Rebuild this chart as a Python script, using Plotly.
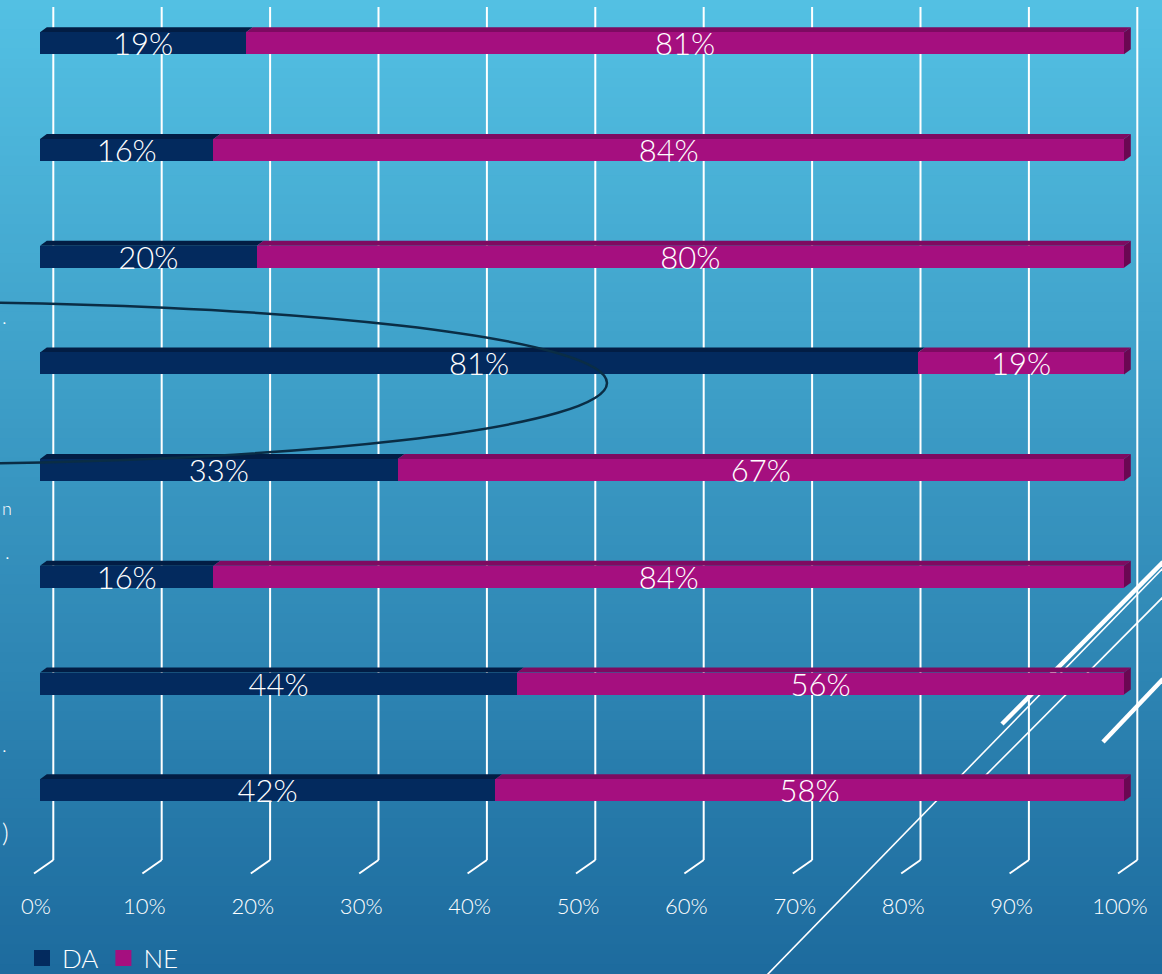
import plotly.graph_objects as go

# ---------------- data ----------------
categories = ["1", "2", "3", "4", "5", "6", "7", "8"]   # row labels (hidden in the reference)
da_values = [19, 16, 20, 81, 33, 16, 44, 42]
ne_values = [81, 84, 80, 19, 67, 84, 56, 58]
series_names = ["DA", "NE"]
x_tick_values = [0, 10, 20, 30, 40, 50, 60, 70, 80, 90, 100]
x_tick_labels = ["0%", "10%", "20%", "30%", "40%", "50%", "60%", "70%", "80%", "90%", "100%"]

# ---------------- geometry / style ----------------
W, H = 1162, 974
ML, MR, MT, MB = 20, 10, 0, 94
PW, PH = W - ML - MR, H - MT - MB
X0_PX, X100_PX = 40, 1124
PPX = (X100_PX - X0_PX) / 100.0          # pixels per x unit
ROW0_PX, ROW_STEP = 43.3, 106.7          # centre of first row, row spacing (px)
BAR_W = 22 / ROW_STEP                    # bar thickness in row units
DX = 6.8 / PPX                           # 3D depth offset (x, data units)
DY = 5.0 / ROW_STEP                      # 3D depth offset (y, data units)
GRID_SHIFT = 13.3 / PPX                  # back-wall gridline shift

x_range = [-(X0_PX - ML) / PPX, -(X0_PX - ML) / PPX + PW / PPX]
y_range = [(MT + PH - ROW0_PX) / ROW_STEP, -(ROW0_PX - MT) / ROW_STEP]

FONT = "Century Gothic, Lato Light, Lato, Open Sans, sans-serif"
DA_FRONT, DA_TOP = "#032a5e", "#021d44"
NE_FRONT, NE_TOP, NE_END = "#a50f7f", "#7e0a61", "#6a0752"


def pxx(x):
    return (x - ML) / PW


def pxy(y):
    return 1 - (y - MT) / PH


ypos = list(range(len(categories)))

shapes = []

# background gradient (vertical)
top_c = (83, 192, 227)
bot_c = (29, 107, 158)
N = 100
for k in range(N):
    t = k / (N - 1)
    c = tuple(int(round(top_c[j] + (bot_c[j] - top_c[j]) * t)) for j in range(3))
    y0 = H * k / N
    y1 = H * (k + 1) / N + 1
    shapes.append(dict(type="rect", xref="paper", yref="paper",
                       x0=pxx(-2), x1=pxx(W + 2), y0=pxy(y1), y1=pxy(y0),
                       fillcolor="rgb(%d,%d,%d)" % c, line=dict(width=0), layer="below"))

# decorative white diagonal lines (slide ornament)
deco = [((767, 975), (1163, 568), 1.6),
        ((978, 783), (1163, 597), 1.6),
        ((1002, 724), (1163, 562), 4.5),
        ((1103, 742), (1163, 679), 4.5)]
for (a, b, wdt) in deco:
    shapes.append(dict(type="line", xref="paper", yref="paper",
                       x0=pxx(a[0]), y0=pxy(a[1]), x1=pxx(b[0]), y1=pxy(b[1]),
                       line=dict(color="white", width=wdt), layer="below"))

# back-wall gridlines with perspective feet
for v in x_tick_values:
    shapes.append(dict(type="line", xref="x", yref="paper",
                       x0=v + GRID_SHIFT, x1=v + GRID_SHIFT, y0=pxy(7), y1=pxy(860),
                       line=dict(color="white", width=2), layer="below"))
    shapes.append(dict(type="line", xref="x", yref="paper",
                       x0=v + GRID_SHIFT, y0=pxy(860), x1=v - 6.0 / PPX, y1=pxy(873.5),
                       line=dict(color="white", width=2), layer="below"))

# 3D top faces and end faces of the bars
for i, (d, n) in enumerate(zip(da_values, ne_values)):
    yt = i - BAR_W / 2
    yb = i + BAR_W / 2
    for s, e, col in ((0, d, DA_TOP), (d, d + n, NE_TOP)):
        shapes.append(dict(type="path", xref="x", yref="y", layer="below",
                           path=f"M {s},{yt} L {s + DX},{yt - DY} L {e + DX},{yt - DY} L {e},{yt} Z",
                           fillcolor=col, line=dict(width=0)))
    e = d + n
    shapes.append(dict(type="path", xref="x", yref="y", layer="below",
                       path=f"M {e},{yt} L {e + DX},{yt - DY} L {e + DX},{yb - DY} L {e},{yb} Z",
                       fillcolor=NE_END, line=dict(width=0)))

# dark ellipse ornament from the slide
E_CX, E_CY, E_A, E_B = -93, 383, 700, 81
shapes.append(dict(type="circle", xref="paper", yref="paper",
                   x0=pxx(E_CX - E_A), x1=pxx(E_CX + E_A), y0=pxy(E_CY + E_B), y1=pxy(E_CY - E_B),
                   line=dict(color="#0a2d45", width=2.5), fillcolor="rgba(0,0,0,0)", layer="above"))

fig = go.Figure()
for name, vals, col in ((series_names[0], da_values, DA_FRONT), (series_names[1], ne_values, NE_FRONT)):
    fig.add_trace(go.Bar(
        name=name, x=vals, y=ypos, orientation="h", width=BAR_W,
        marker=dict(color=col, line=dict(width=0)),
        text=[f"{v}%" for v in vals], textposition="inside", insidetextanchor="middle",
        constraintext="none", textangle=0,
        textfont=dict(family=FONT, size=31, color="white", weight=300),
        hoverinfo="skip", showlegend=False, legendgroup=name,
    ))
    # legend proxy with a larger square swatch, as in the reference
    fig.add_trace(go.Scatter(
        name=name, x=[None], y=[None], mode="markers", legendgroup=name,
        marker=dict(symbol="square", size=16, color=col, line=dict(width=0)),
        hoverinfo="skip", showlegend=True,
    ))

# left-edge text remnants of the slide (kept fully inside the page)
annotations = []
for txt, xp, yp, sz in ((".", 0, 316, 20), ("n", 0, 508, 18), (".", 3, 551, 20),
                        (".", 0, 744, 20), (")", 0, 832, 26)):
    annotations.append(dict(text=txt, xref="paper", yref="paper", x=pxx(xp), y=pxy(yp),
                            xanchor="left", yanchor="middle", showarrow=False,
                            font=dict(family=FONT, size=sz, color="white")))

fig.update_layout(
    width=W, height=H,
    margin=dict(l=ML, r=MR, t=MT, b=MB, pad=0, autoexpand=False),
    barmode="stack",
    paper_bgcolor="#2a86b8", plot_bgcolor="rgba(0,0,0,0)",
    shapes=shapes, annotations=annotations,
    showlegend=True,
    legend=dict(orientation="h", x=pxx(22), y=pxy(958), xanchor="left", yanchor="middle",
                font=dict(family=FONT, size=26, color="white", weight=300),
                bgcolor="rgba(0,0,0,0)", itemwidth=30, traceorder="normal",
                itemsizing="trace", tracegroupgap=0, borderwidth=0),
    xaxis=dict(range=x_range, tickvals=x_tick_values, ticktext=x_tick_labels,
               showgrid=False, zeroline=False, showline=False, ticks="",
               ticklabelstandoff=11, ticklabelshift=-4,
               tickfont=dict(family=FONT, size=22, color="white", weight=300), fixedrange=True),
    yaxis=dict(range=y_range, showticklabels=False, showgrid=False, zeroline=False,
               showline=False, ticks="", fixedrange=True),
    font=dict(family=FONT, color="white"),
)

fig.write_html("out.html", config={"displayModeBar": False},
               post_script="document.body.style.margin='0';document.body.style.overflow='hidden';")
